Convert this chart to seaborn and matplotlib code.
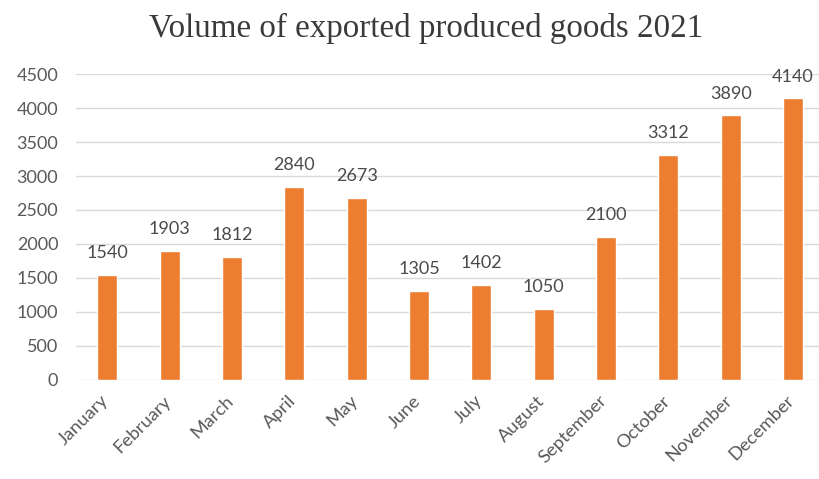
import matplotlib
matplotlib.use("Agg")
import matplotlib.pyplot as plt
import matplotlib.transforms as mtransforms
import seaborn as sns
import pandas as pd

months = ["January", "February", "March", "April", "May", "June", "July",
          "August", "September", "October", "November", "December"]
volumes = [1540, 1903, 1812, 2840, 2673, 1305, 1402, 1050, 2100, 3312, 3890, 4140]
y_ticks = [0, 500, 1000, 1500, 2000, 2500, 3000, 3500, 4000, 4500]

df = pd.DataFrame({"month": months, "volume": volumes})

sns.set_theme(style="white")
plt.rcParams["font.family"] = ["Lato", "DejaVu Sans"]

fig = plt.figure(figsize=(8.2, 4.79), dpi=100)
ax = fig.add_axes([0.093, 0.2067, 0.912, 0.6388])

sns.barplot(data=df, x="month", y="volume", color="#ED7D31", width=0.32,
            saturation=1, ax=ax)

ax.set_ylim(0, 4500)
ax.set_yticks(y_ticks)
ax.set_xlim(-0.5, len(months) - 0.5)
ax.yaxis.grid(True, color="#D9D9D9", linewidth=1)
ax.set_axisbelow(True)
for s in ax.spines.values():
    s.set_visible(False)
ax.set_xlabel("")
ax.set_ylabel("")
ax.tick_params(axis="y", length=0, pad=13, labelsize=13, labelcolor="#595959")
ax.tick_params(axis="x", length=0, pad=9, labelsize=13.3, labelcolor="#595959")
plt.setp(ax.get_xticklabels(), rotation=45, ha="right", rotation_mode="anchor")

# nudge the slanted month names a little to the left
shift = mtransforms.ScaledTranslation(-7 / 100, 0, fig.dpi_scale_trans)
for lbl in ax.get_xticklabels():
    lbl.set_transform(lbl.get_transform() + shift)

for i, v in enumerate(volumes):
    ax.annotate(f"{v}", (i, v), xytext=(0, 10), textcoords="offset points",
                ha="center", va="bottom", fontsize=13, color="#4A4A4A")

fig.text(0.52, 0.9415, "Volume of exported produced goods 2021",
         ha="center", va="center", fontsize=23.8,
         family=["Liberation Serif", "DejaVu Serif"], color="#3A3A3A")

fig.savefig("out.png", dpi=100, facecolor="white")
